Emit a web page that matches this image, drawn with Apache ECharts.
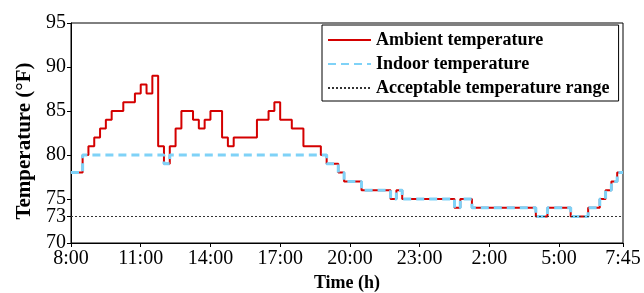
<!DOCTYPE html>
<html>
<head>
<meta charset="utf-8">
<script src="https://cdn.jsdelivr.net/npm/echarts@6/dist/echarts.min.js"></script>
<style>
  html, body { margin: 0; padding: 0; background: #fff; }
  #chart { width: 644px; height: 293px; }
</style>
</head>
<body>
<div id="chart"></div>
<script>
// 15 minute slots from 8:00 to 7:45 next day
var times = [];
for (var k = 0; k < 96; k++) {
  var mins = 8 * 60 + k * 15;
  var h = Math.floor(mins / 60) % 24;
  var m = mins % 60;
  times.push(h + ':' + (m < 10 ? '0' + m : m));
}

var tickLabels = ['8:00', '11:00', '14:00', '17:00', '20:00', '23:00', '2:00', '5:00', '7:45'];
var yLabels = [70, 73, 75, 80, 85, 90, 95];

var ambient = [
  78, 78, 80, 81, 82, 83, 84, 85, 85, 86, 86, 87,
  88, 87, 89, 81, 79, 81, 83, 85, 85, 84, 83, 84,
  85, 85, 82, 81, 82, 82, 82, 82, 84, 84, 85, 86,
  84, 84, 83, 83, 81, 81, 81, 80, 79, 79, 78, 77,
  77, 77, 76, 76, 76, 76, 76, 75, 76, 75, 75, 75,
  75, 75, 75, 75, 75, 75, 74, 75, 75, 74, 74, 74,
  74, 74, 74, 74, 74, 74, 74, 74, 73, 73, 74, 74,
  74, 74, 73, 73, 73, 74, 74, 75, 76, 77, 78, 78
];

var indoor = [
  78, 78, 80, 80, 80, 80, 80, 80, 80, 80, 80, 80,
  80, 80, 80, 80, 79, 80, 80, 80, 80, 80, 80, 80,
  80, 80, 80, 80, 80, 80, 80, 80, 80, 80, 80, 80,
  80, 80, 80, 80, 80, 80, 80, 80, 79, 79, 78, 77,
  77, 77, 76, 76, 76, 76, 76, 75, 76, 75, 75, 75,
  75, 75, 75, 75, 75, 75, 74, 75, 75, 74, 74, 74,
  74, 74, 74, 74, 74, 74, 74, 74, 73, 73, 74, 74,
  74, 74, 73, 73, 73, 74, 74, 75, 76, 77, 78, 78
];

var acceptableMin = 73;

var serif = '"Liberation Serif", "DejaVu Serif", serif';

var myChart = echarts.init(document.getElementById('chart'));
myChart.setOption({
  animation: false,
  grid: {
    left: 71,
    right: 21,
    top: 23,
    bottom: 50,
    outerBoundsMode: 'none',
    show: true,
    borderColor: '#000',
    borderWidth: 1
  },
  legend: {
    orient: 'vertical',
    left: 322,
    top: 25,
    padding: [6, 9, 4, 5],
    itemWidth: 43,
    itemHeight: 14,
    itemGap: 6,
    borderColor: '#000',
    borderWidth: 1,
    itemStyle: { opacity: 0 },
    textStyle: {
      fontFamily: serif,
      fontWeight: 'bold',
      fontSize: 18,
      color: '#000'
    },
    data: ['Ambient temperature', 'Indoor temperature', 'Acceptable temperature range']
  },
  xAxis: {
    type: 'category',
    data: times,
    boundaryGap: false,
    name: 'Time (h)',
    nameLocation: 'middle',
    nameGap: 30,
    nameTextStyle: {
      fontFamily: serif,
      fontWeight: 'bold',
      fontSize: 18,
      color: '#000'
    },
    axisLine: { lineStyle: { color: '#000', width: 1 } },
    axisTick: {
      length: 4,
      lineStyle: { color: '#000' },
      interval: function (i, v) { return tickLabels.indexOf(v) >= 0; }
    },
    axisLabel: {
      fontFamily: serif,
      fontSize: 20,
      color: '#000',
      margin: 6,
      interval: function (i, v) { return tickLabels.indexOf(v) >= 0; }
    },
    splitLine: { show: false }
  },
  yAxis: {
    type: 'value',
    min: 70,
    max: 95,
    interval: 5,
    name: 'Temperature (°F)',
    nameLocation: 'middle',
    nameGap: 36,
    nameTextStyle: {
      fontFamily: serif,
      fontWeight: 'bold',
      fontSize: 21,
      color: '#000',
      padding: [0, 16, 0, 0]
    },
    axisLine: { show: true, lineStyle: { color: '#000', width: 1 } },
    axisTick: {
      show: true,
      length: 4,
      lineStyle: { color: '#000' },
      customValues: yLabels
    },
    axisLabel: {
      fontFamily: serif,
      fontSize: 20,
      color: '#000',
      margin: 5,
      customValues: yLabels
    },
    splitLine: { show: false }
  },
  series: [
    {
      name: 'Acceptable temperature range',
      type: 'line',
      data: [],
      symbol: 'none',
      lineStyle: { color: '#333', width: 1, type: [2, 2] },
      itemStyle: { color: '#333' },
      markLine: {
        silent: true,
        symbol: 'none',
        label: { show: false },
        lineStyle: { color: '#333', width: 1, type: [2, 2] },
        data: [{ yAxis: acceptableMin }]
      }
    },
    {
      name: 'Ambient temperature',
      type: 'line',
      step: 'end',
      data: ambient,
      symbol: 'none',
      lineStyle: { color: '#d40000', width: 2 },
      itemStyle: { color: '#d40000' }
    },
    {
      name: 'Indoor temperature',
      type: 'line',
      step: 'end',
      data: indoor,
      symbol: 'none',
      lineStyle: { color: '#7fd2f7', width: 3, type: [8, 5] },
      itemStyle: { color: '#7fd2f7' }
    }
  ]
});
</script>
</body>
</html>
